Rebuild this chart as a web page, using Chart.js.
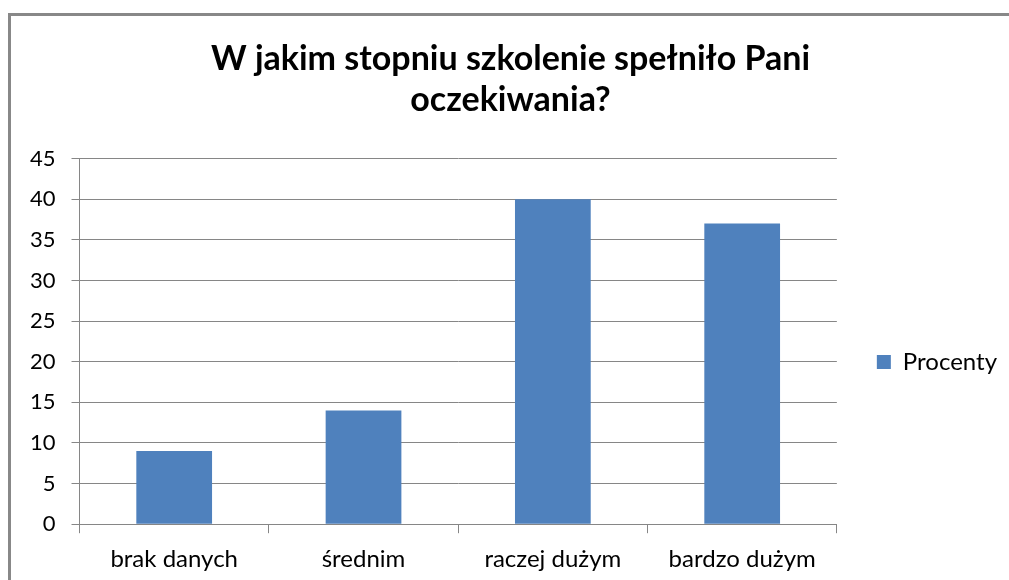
<!DOCTYPE html>
<html>
<head>
<meta charset="utf-8">
<script src="https://cdn.jsdelivr.net/npm/chart.js@4"></script>
<style>
  body { margin: 0; overflow: hidden; background: #fff; }
  #frame { position: absolute; left: 8px; top: 13px; width: 1100px; height: 700px; border: 3px solid #888; }
  #wrap { position: absolute; left: 0; top: 0; width: 1009px; height: 580px; }
</style>
</head>
<body>
<div id="frame"></div>
<div id="wrap"><canvas id="surveyChart"></canvas></div>
<script>
// Survey data
var categories = ['brak danych', 'średnim', 'raczej dużym', 'bardzo dużym'];
var percents = [9, 14, 40, 37];
var titleLines = ['W jakim stopniu szkolenie spełniło Pani', 'oczekiwania?'];

var ctx = document.getElementById('surveyChart').getContext('2d');
var surveyChart = new Chart(ctx, {
    type: 'bar',
    data: {
        labels: categories,
        datasets: [{
            label: 'Procenty',
            data: percents,
            backgroundColor: '#4F81BD',
            borderWidth: 0,
            barPercentage: 0.4,
            categoryPercentage: 1
        }]
    },
    options: {
        responsive: true,
        maintainAspectRatio: false,
        animation: false,
        layout: {
            padding: { left: 14, right: 2, top: 39, bottom: -6 }
        },
        plugins: {
            title: {
                display: true,
                text: titleLines,
                color: '#000',
                font: { family: 'Lato', size: 34, weight: 'bold' },
                lineHeight: 1.33,
                padding: { top: 0, bottom: 38 }
            },
            legend: {
                position: 'right',
                // empty legend title only pushes the entry down like the original
                title: { display: true, text: ' ', font: { size: 1 }, padding: { top: 98, bottom: 0 } },
                labels: {
                    color: '#000',
                    font: { family: 'Lato', size: 24 },
                    boxWidth: 14,
                    boxHeight: 14,
                    padding: 40
                }
            },
            tooltip: { enabled: false }
        },
        scales: {
            x: {
                grid: { offset: true, drawOnChartArea: false, color: '#868686', tickLength: 9 },
                border: { color: '#868686' },
                ticks: { color: '#000', font: { family: 'Lato', size: 24 }, padding: 12 }
            },
            y: {
                min: 0,
                max: 45,
                grid: { color: '#868686', tickLength: 8 },
                border: { color: '#868686' },
                ticks: { stepSize: 5, color: '#000', font: { family: 'Lato', size: 22 }, padding: 16 }
            }
        }
    }
});
</script>
</body>
</html>
